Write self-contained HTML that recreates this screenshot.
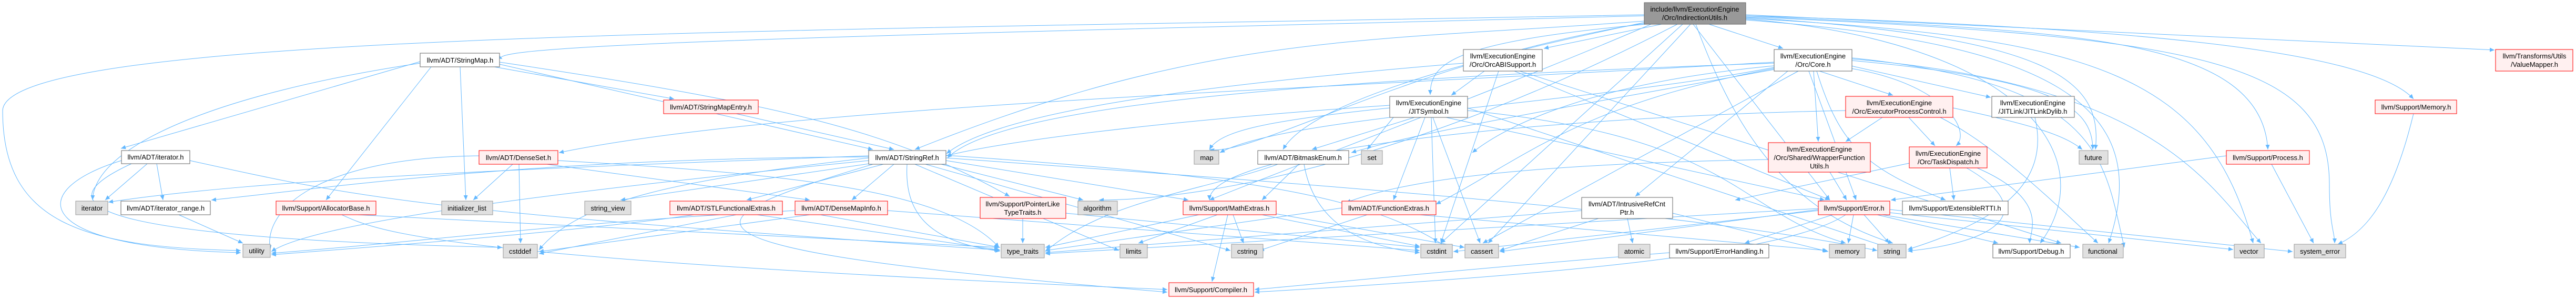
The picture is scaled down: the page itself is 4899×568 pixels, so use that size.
<!DOCTYPE html>
<html><head><meta charset="utf-8"><style>
html,body{margin:0;padding:0;background:#fff;width:4899px;height:568px;overflow:hidden}
svg{display:block}
text{font-family:"Liberation Sans",sans-serif;font-size:13px;fill:#000;text-anchor:middle}
.w{fill:#fff;stroke:#666;stroke-width:1}
.r{fill:#fff0f0;stroke:#f00;stroke-width:1}
.g{fill:#e0e0e0;stroke:#999;stroke-width:1}
.m{fill:#999;stroke:#666;stroke-width:1}
.e line,.e path{stroke:#63b8ff;stroke-width:1;fill:none;marker-end:url(#a)}
</style></head><body>
<svg width="4899" height="568" viewBox="0 0 4899 568" xmlns="http://www.w3.org/2000/svg">
<defs><marker id="a" markerUnits="userSpaceOnUse" markerWidth="10" markerHeight="10" refX="9" refY="4" orient="auto"><path d="M0,0 L9,4 L0,8 z" fill="#63b8ff"/></marker></defs>
<g class="e">
<!-- main -->
<path d="M3127,30 C2000,60 900,80 955,112"/>
<path d="M3127,28 C1500,60 10,60 5,210 C5,420 150,470 458,476"/>
<path d="M3127,40 C2600,80 2300,60 1740,284"/>
<line x1="3160" y1="46" x2="2936" y2="92"/>
<path d="M3130,46 C2760,80 2720,120 2720,180"/>
<line x1="3250" y1="46" x2="3391" y2="92"/>
<path d="M3130,42 C2900,90 2500,180 2440,284"/>
<path d="M3130,44 C2700,110 2380,300 2300,284"/>
<path d="M3140,46 C2900,150 2500,300 2300,380"/>
<line x1="3220" y1="46" x2="3480" y2="380"/>
<line x1="3200" y1="46" x2="2740" y2="462"/>
<line x1="3215" y1="46" x2="2830" y2="462"/>
<path d="M3320,30 C3900,60 4300,60 4313,284"/>
<path d="M3320,30 C4000,50 4500,90 4590,188"/>
<line x1="3320" y1="28" x2="4744" y2="95"/>
<path d="M3320,35 C4000,70 4200,150 4285,462"/>
<path d="M3320,32 C4200,70 4430,120 4430,350 C4430,430 4440,440 4440,462"/>
<path d="M3320,38 C3900,80 4100,200 4010,462"/>
<path d="M3320,33 C3900,70 4000,150 3985,284"/>
<path d="M3225,46 C3300,250 3400,400 3600,462"/>
<path d="M3190,46 C2700,300 2300,380 2090,380"/>
<path d="M3320,36 C3850,80 4000,300 3880,462"/>
<!-- StringMap -->
<line x1="799" y1="117" x2="230" y2="282"/>
<path d="M799,120 C400,180 180,280 176,380"/>
<line x1="820" y1="127" x2="620" y2="380"/>
<line x1="875" y1="127" x2="886" y2="380"/>
<line x1="940" y1="127" x2="1282" y2="188"/>
<line x1="950" y1="122" x2="1660" y2="284"/>
<path d="M950,118 C1500,200 1700,250 1920,373"/>
<!-- iterator.h -->
<line x1="280" y1="311" x2="200" y2="380"/>
<line x1="298" y1="311" x2="310" y2="380"/>
<path d="M231,305 C50,360 50,470 458,480"/>
<path d="M361,305 C700,380 800,400 1900,475"/>
<path d="M250,311 C100,380 100,450 955,470"/>
<!-- iterator_range -->
<line x1="340" y1="408" x2="462" y2="462"/>
<!-- AllocatorBase -->
<path d="M650,408 C720,440 820,490 2220,550"/>
<line x1="680" y1="408" x2="1900" y2="470"/>
<!-- StringMapEntry -->
<line x1="1400" y1="216" x2="1700" y2="284"/>
<!-- DenseSet -->
<line x1="975" y1="312" x2="900" y2="380"/>
<line x1="987" y1="312" x2="990" y2="462"/>
<line x1="1040" y1="312" x2="1540" y2="380"/>
<path d="M1061,305 C1500,330 1800,360 1900,470"/>
<path d="M911,296 C600,300 500,400 514,475"/>
<!-- StringRef -->
<line x1="1700" y1="312" x2="1620" y2="380"/>
<line x1="1680" y1="312" x2="1420" y2="380"/>
<line x1="1660" y1="310" x2="1180" y2="380"/>
<line x1="1790" y1="312" x2="2060" y2="380"/>
<path d="M1725,312 C1720,400 1760,460 1902,477"/>
<line x1="1740" y1="312" x2="2128" y2="476"/>
<line x1="1760" y1="312" x2="2340" y2="476"/>
<line x1="1799" y1="305" x2="2260" y2="380"/>
<path d="M1652,300 C1300,340 1100,380 1025,475"/>
<path d="M1652,298 C1000,300 600,360 402,380"/>
<path d="M1652,296 C1000,320 500,340 206,384"/>
<path d="M1652,305 C1100,360 600,420 516,478"/>
<path d="M1799,300 C2500,350 3200,400 3570,476"/>
<path d="M1799,295 C2300,330 2600,360 2760,476"/>
<path d="M1660,312 C1300,420 1200,470 2220,555"/>
<!-- DenseMapInfo -->
<line x1="1560" y1="408" x2="1902" y2="470"/>
<line x1="1688" y1="400" x2="2700" y2="476"/>
<line x1="1540" y1="408" x2="1025" y2="478"/>
<path d="M1512,400 C1100,420 800,460 516,481"/>
<!-- STLFunctionalExtras -->
<line x1="1440" y1="408" x2="1902" y2="475"/>
<path d="M1320,408 C1100,440 700,470 516,484"/>
<line x1="1400" y1="408" x2="1025" y2="482"/>
<!-- PointerLike -->
<line x1="1945" y1="415" x2="1945" y2="462"/>
<line x1="2027" y1="405" x2="2700" y2="470"/>
<!-- MathExtras -->
<line x1="2335" y1="408" x2="2305" y2="535"/>
<line x1="2315" y1="408" x2="2165" y2="462"/>
<line x1="2345" y1="408" x2="2365" y2="462"/>
<line x1="2280" y1="408" x2="1988" y2="470"/>
<line x1="2400" y1="408" x2="2700" y2="468"/>
<line x1="2420" y1="405" x2="2785" y2="470"/>
<!-- BitmaskEnum -->
<line x1="2470" y1="312" x2="2400" y2="380"/>
<path d="M2480,312 C2500,430 2600,470 2700,480"/>
<path d="M2430,312 C2300,360 2100,380 1988,478"/>
<!-- OrcABISupport -->
<line x1="2823" y1="135" x2="2760" y2="181"/>
<line x1="2850" y1="135" x2="2740" y2="462"/>
<line x1="2880" y1="135" x2="3480" y2="380"/>
<line x1="2890" y1="135" x2="3920" y2="462"/>
<path d="M2783,120 C2300,160 1900,210 1800,292"/>
<!-- JITSymbol -->
<line x1="2690" y1="223" x2="2495" y2="284"/>
<line x1="2650" y1="223" x2="2600" y2="284"/>
<line x1="2710" y1="223" x2="2650" y2="380"/>
<line x1="2722" y1="223" x2="2730" y2="462"/>
<line x1="2725" y1="223" x2="2815" y2="462"/>
<line x1="2750" y1="223" x2="3470" y2="380"/>
<path d="M2791,210 C3300,260 3300,400 3510,462"/>
<path d="M2643,200 C2200,230 1900,270 1800,296"/>
<path d="M2643,205 C2400,230 2320,250 2300,284"/>
<line x1="2791" y1="205" x2="3590" y2="470"/>
<!-- FunctionExtras -->
<line x1="2600" y1="408" x2="2395" y2="476"/>
<line x1="2552" y1="395" x2="1988" y2="476"/>
<line x1="2700" y1="408" x2="3475" y2="476"/>
<!-- IntrusiveRefCntPtr -->
<line x1="3095" y1="415" x2="3105" y2="462"/>
<line x1="3040" y1="415" x2="2852" y2="476"/>
<line x1="3181" y1="405" x2="3477" y2="478"/>
<line x1="3008" y1="400" x2="1988" y2="480"/>
<!-- ErrorHandling -->
<path d="M3175,480 C2800,510 2500,540 2386,550"/>
<!-- Core -->
<line x1="3460" y1="135" x2="3600" y2="181"/>
<line x1="3520" y1="125" x2="3786" y2="185"/>
<line x1="3449" y1="135" x2="3458" y2="269"/>
<path d="M3520,130 C3700,160 3750,250 3720,277"/>
<line x1="3440" y1="135" x2="3530" y2="380"/>
<path d="M3455,135 C3500,280 3550,320 3700,380"/>
<path d="M3522,115 C3900,150 3980,200 3980,284"/>
<path d="M3522,110 C4000,160 4000,300 4040,470"/>
<path d="M3522,112 C4100,160 4200,350 4300,462"/>
<path d="M3374,125 C3000,160 2850,250 2800,290"/>
<path d="M3374,120 C2500,150 1900,200 1802,300"/>
<path d="M3374,118 C2500,170 1500,200 1063,290"/>
<line x1="3400" y1="135" x2="3110" y2="373"/>
<path d="M3374,130 C3000,200 2900,300 2731,388"/>
<path d="M3374,128 C3000,200 2450,220 2320,290"/>
<path d="M3374,132 C3000,200 2700,250 2570,290"/>
<line x1="3420" y1="135" x2="2820" y2="462"/>
<!-- EPC -->
<line x1="3580" y1="223" x2="3510" y2="269"/>
<line x1="3630" y1="223" x2="3680" y2="277"/>
<path d="M3714,205 C3880,240 3930,260 3960,284"/>
<path d="M3690,223 C3800,280 3900,380 3990,462"/>
<path d="M3510,210 C3000,220 2300,280 2300,380"/>
<!-- WrapperFunctionUtils -->
<line x1="3480" y1="327" x2="3512" y2="380"/>
<path d="M3363,303 C3000,310 2700,330 2560,385"/>
<!-- TaskDispatch -->
<line x1="3708" y1="319" x2="3716" y2="380"/>
<path d="M3760,319 C3900,380 3860,440 3860,462"/>
<path d="M3740,319 C3880,400 3800,460 3628,477"/>
<line x1="3631" y1="310" x2="3300" y2="380"/>
<!-- JITLinkDylib -->
<path d="M3870,223 C3900,350 3800,420 3628,474"/>
<!-- Error -->
<line x1="3485" y1="408" x2="3318" y2="462"/>
<line x1="3525" y1="408" x2="3515" y2="462"/>
<line x1="3545" y1="408" x2="3593" y2="462"/>
<line x1="3570" y1="408" x2="3800" y2="462"/>
<line x1="3580" y1="408" x2="3955" y2="470"/>
<path d="M3510,408 C3400,480 3000,520 2386,555"/>
<line x1="3458" y1="398" x2="2852" y2="478"/>
<line x1="3458" y1="400" x2="2764" y2="478"/>
<line x1="3458" y1="396" x2="1988" y2="482"/>
<line x1="3594" y1="404" x2="4247" y2="474"/>
<line x1="3594" y1="398" x2="4360" y2="478"/>
<!-- Process / Memory -->
<line x1="4320" y1="312" x2="4400" y2="462"/>
<line x1="4234" y1="296" x2="3596" y2="380"/>
<path d="M4590,216 C4550,380 4500,440 4446,464"/>
</g>
<!-- nodes -->
<rect class="m" x="3127" y="5" width="193" height="41"/><text x="3223" y="22">include/llvm/ExecutionEngine</text><text x="3223" y="38">/Orc/IndirectionUtils.h</text>
<rect class="w" x="799" y="101" width="151" height="26"/><text x="875" y="119">llvm/ADT/StringMap.h</text>
<rect class="w" x="231" y="286" width="130" height="25"/><text x="296" y="303">llvm/ADT/iterator.h</text>
<rect class="g" x="144" y="382" width="61" height="26"/><text x="175" y="400">iterator</text>
<rect class="w" x="230" y="382" width="170" height="26"/><text x="315" y="400">llvm/ADT/iterator_range.h</text>
<rect class="r" x="525" y="382" width="190" height="26"/><text x="620" y="400">llvm/Support/AllocatorBase.h</text>
<rect class="g" x="462" y="464" width="52" height="25"/><text x="488" y="481">utility</text>
<rect class="r" x="1262" y="190" width="180" height="26"/><text x="1352" y="208">llvm/ADT/StringMapEntry.h</text>
<rect class="r" x="911" y="286" width="150" height="26"/><text x="986" y="304">llvm/ADT/DenseSet.h</text>
<rect class="g" x="840" y="382" width="97" height="26"/><text x="888" y="400">initializer_list</text>
<rect class="g" x="1112" y="382" width="88" height="26"/><text x="1156" y="400">string_view</text>
<rect class="r" x="1274" y="382" width="214" height="26"/><text x="1381" y="400">llvm/ADT/STLFunctionalExtras.h</text>
<rect class="r" x="1512" y="382" width="176" height="26"/><text x="1600" y="400">llvm/ADT/DenseMapInfo.h</text>
<rect class="g" x="957" y="464" width="65" height="26"/><text x="989" y="482">cstddef</text>
<rect class="w" x="1652" y="286" width="147" height="26"/><text x="1725" y="304">llvm/ADT/StringRef.h</text>
<rect class="g" x="2271" y="286" width="47" height="26"/><text x="2295" y="304">map</text>
<rect class="r" x="1864" y="375" width="163" height="40"/><text x="1945" y="392">llvm/Support/PointerLike</text><text x="1945" y="408">TypeTraits.h</text>
<rect class="g" x="2050" y="382" width="75" height="26"/><text x="2087" y="400">algorithm</text>
<rect class="r" x="2250" y="382" width="177" height="26"/><text x="2338" y="400">llvm/Support/MathExtras.h</text>
<rect class="g" x="1904" y="464" width="82" height="26"/><text x="1945" y="482">type_traits</text>
<rect class="g" x="2130" y="464" width="52" height="26"/><text x="2156" y="482">limits</text>
<rect class="g" x="2342" y="464" width="60" height="26"/><text x="2372" y="482">cstring</text>
<rect class="r" x="2223" y="537" width="161" height="26"/><text x="2303" y="555">llvm/Support/Compiler.h</text>
<rect class="w" x="2392" y="286" width="173" height="26"/><text x="2478" y="304">llvm/ADT/BitmaskEnum.h</text>
<rect class="w" x="2783" y="94" width="150" height="41"/><text x="2858" y="111">llvm/ExecutionEngine</text><text x="2858" y="127">/Orc/OrcABISupport.h</text>
<rect class="w" x="2643" y="183" width="148" height="40"/><text x="2717" y="200">llvm/ExecutionEngine</text><text x="2717" y="216">/JITSymbol.h</text>
<rect class="g" x="2589" y="286" width="40" height="26"/><text x="2609" y="304">set</text>
<rect class="r" x="2552" y="382" width="179" height="26"/><text x="2641" y="400">llvm/ADT/FunctionExtras.h</text>
<rect class="w" x="3008" y="375" width="173" height="40"/><text x="3094" y="392">llvm/ADT/IntrusiveRefCnt</text><text x="3094" y="408">Ptr.h</text>
<rect class="g" x="2702" y="464" width="60" height="26"/><text x="2732" y="482">cstdint</text>
<rect class="g" x="2786" y="464" width="64" height="26"/><text x="2818" y="482">cassert</text>
<rect class="g" x="3078" y="464" width="60" height="26"/><text x="3108" y="482">atomic</text>
<rect class="w" x="3175" y="464" width="189" height="26"/><text x="3270" y="482">llvm/Support/ErrorHandling.h</text>
<rect class="w" x="3374" y="94" width="148" height="41"/><text x="3448" y="111">llvm/ExecutionEngine</text><text x="3448" y="127">/Orc/Core.h</text>
<rect class="r" x="3510" y="183" width="204" height="40"/><text x="3612" y="200">llvm/ExecutionEngine</text><text x="3612" y="216">/Orc/ExecutorProcessControl.h</text>
<rect class="w" x="3788" y="183" width="157" height="40"/><text x="3866" y="200">llvm/ExecutionEngine</text><text x="3866" y="216">/JITLink/JITLinkDylib.h</text>
<rect class="r" x="3363" y="271" width="194" height="56"/><text x="3460" y="288">llvm/ExecutionEngine</text><text x="3460" y="304">/Orc/Shared/WrapperFunction</text><text x="3460" y="320">Utils.h</text>
<rect class="r" x="3631" y="279" width="148" height="40"/><text x="3705" y="296">llvm/ExecutionEngine</text><text x="3705" y="312">/Orc/TaskDispatch.h</text>
<rect class="g" x="3954" y="286" width="55" height="26"/><text x="3981" y="304">future</text>
<rect class="r" x="3458" y="382" width="136" height="26"/><text x="3526" y="400">llvm/Support/Error.h</text>
<rect class="w" x="3618" y="382" width="201" height="26"/><text x="3718" y="400">llvm/Support/ExtensibleRTTI.h</text>
<rect class="g" x="3479" y="464" width="68" height="26"/><text x="3513" y="482">memory</text>
<rect class="g" x="3571" y="464" width="54" height="26"/><text x="3598" y="482">string</text>
<rect class="w" x="3790" y="464" width="147" height="26"/><text x="3863" y="482">llvm/Support/Debug.h</text>
<rect class="g" x="3961" y="464" width="77" height="26"/><text x="3999" y="482">functional</text>
<rect class="r" x="4746" y="94" width="147" height="41"/><text x="4820" y="111">llvm/Transforms/Utils</text><text x="4820" y="127">/ValueMapper.h</text>
<rect class="r" x="4517" y="190" width="155" height="26"/><text x="4595" y="208">llvm/Support/Memory.h</text>
<rect class="r" x="4234" y="286" width="158" height="26"/><text x="4313" y="304">llvm/Support/Process.h</text>
<rect class="g" x="4249" y="464" width="57" height="26"/><text x="4277" y="482">vector</text>
<rect class="g" x="4363" y="464" width="98" height="26"/><text x="4412" y="482">system_error</text>
</svg>
</body></html>
